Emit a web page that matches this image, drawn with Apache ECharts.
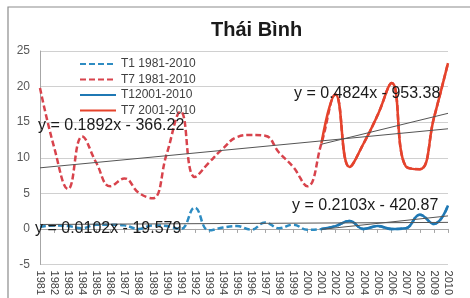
<!DOCTYPE html>
<html>
<head>
<meta charset="utf-8">
<script src="https://cdn.jsdelivr.net/npm/echarts@6/dist/echarts.min.js"></script>
<style>
  html, body { margin: 0; padding: 0; background: #fff; }
  #chart { width: 470px; height: 298px; }
</style>
</head>
<body>
<div id="chart"></div>
<script>
// categories (years)
var years = [];
for (var y = 1981; y <= 2010; y++) years.push(String(y));
var years2 = years.slice(20); // 2001-2010

// T1 (January) 1981-2010, dashed blue
var t1All = [0.3, 0.5, 0.4, 0.1, 0.6, 0.6, 0.5, 0.0, 0.5, 0.4, 0.0, 3.0, -0.2, 0.2, 0.4, -0.1, 0.9, 0.1, 0.6, -0.1,
             0.0, 0.4, 1.1, 0.0, 0.4, 0.0, 0.1, 2.0, 0.7, 3.3];
// T7 (July) 1981-2010, dashed red
var t7All = [19.8, 11.5, 5.6, 13.0, 9.3, 6.0, 7.1, 5.1, 4.3, 10.5, 16.5, 7.3, 9.3, 11.3, 12.9, 13.2, 13.1, 10.7, 8.7, 6.0,
             12.0, 18.9, 8.7, 12.0, 16.0, 20.5, 8.8, 8.4, 15.6, 23.3];
// T1 2001-2010, solid blue
var t1Recent = [0.0, 0.4, 1.1, 0.0, 0.4, 0.0, 0.1, 2.0, 0.7, 3.3];
// T7 2001-2010, solid red
var t7Recent = [12.0, 18.9, 8.7, 12.0, 16.0, 20.5, 8.8, 8.4, 15.6, 23.3];

// trend line equations as printed (slope, intercept, year range)
var trendSlopes = [0.1892, 0.4824, 0.0102, 0.2103];
var trendIntercepts = [-366.22, -953.38, -19.579, -420.87];
var trendFrom = [1981, 2001, 1981, 2001];
var trendTo = [2010, 2010, 2010, 2010];
var trendLabels = ["y = 0.1892x - 366.22", "y = 0.4824x - 953.38", "y = 0.0102x - 19.579", "y = 0.2103x - 420.87"];
var labelPos = [[38, 118], [294, 86], [35, 221], [292, 198]];

var yTicks = [-5, 0, 5, 10, 15, 20, 25];

var chart = echarts.init(document.getElementById("chart"));

function pairs(xs, vs) {
  return xs.map(function (x, i) { return [x, vs[i]]; });
}

var series = [
  {
    name: "T1 1981-2010", type: "line", data: pairs(years, t1All),
    smooth: 0.45, symbol: "none", z: 3,
    lineStyle: { color: "#2e8cc2", width: 2.5, type: [6, 3] },
    itemStyle: { color: "#2e8cc2" }
  },
  {
    name: "T7 1981-2010", type: "line", data: pairs(years, t7All),
    smooth: 0.45, symbol: "none", z: 3,
    lineStyle: { color: "#d8434c", width: 2.5, type: [6, 3] },
    itemStyle: { color: "#d8434c" }
  },
  {
    name: "T12001-2010", type: "line", data: pairs(years2, t1Recent),
    smooth: 0.45, symbol: "none", z: 4,
    lineStyle: { color: "#1f78b4", width: 2.5 },
    itemStyle: { color: "#1f78b4" }
  },
  {
    name: "T7 2001-2010", type: "line", data: pairs(years2, t7Recent),
    smooth: 0.45, symbol: "none", z: 4,
    lineStyle: { color: "#e5432b", width: 2.5 },
    itemStyle: { color: "#e5432b" }
  }
];

trendSlopes.forEach(function (a, i) {
  var b = trendIntercepts[i];
  series.push({
    name: "trend" + i, type: "line", symbol: "none", silent: true, z: 5,
    data: [
      [String(trendFrom[i]), a * trendFrom[i] + b],
      [String(trendTo[i]), a * trendTo[i] + b]
    ],
    lineStyle: { color: "#555", width: 1 }
  });
});

var graphics = [
  {
    type: "rect", shape: { x: 8, y: 7, width: 480, height: 320 }, silent: true,
    style: { fill: null, stroke: "#8c8c8c", lineWidth: 1.2 }
  }
];
trendLabels.forEach(function (t, i) {
  graphics.push({
    type: "text", left: labelPos[i][0], top: labelPos[i][1], z: 100,
    style: { text: t, fill: "#1a1a1a", font: "16px 'Liberation Sans', sans-serif" }
  });
});

chart.setOption({
  animation: false,
  backgroundColor: "#fff",
  title: {
    text: "Thái Bình", left: 206, top: 15,
    textStyle: { fontFamily: "Liberation Sans", fontWeight: "bold", fontSize: 20, color: "#1a1a1a" }
  },
  legend: {
    data: ["T1 1981-2010", "T7 1981-2010", "T12001-2010", "T7 2001-2010"],
    orient: "vertical", left: 74, top: 53,
    itemWidth: 36, itemHeight: 12, itemGap: 3.5, itemTextGap: 3,
    itemStyle: { opacity: 0 },
    textStyle: { fontFamily: "Liberation Sans", fontSize: 12, color: "#404040" }
  },
  grid: { left: 40, right: 22, top: 51, bottom: 21 },
  xAxis: {
    type: "category", data: years, boundaryGap: false,
    axisLine: { lineStyle: { color: "#a6a6a6" } },
    axisTick: { show: true, length: 4, inside: false, lineStyle: { color: "#a6a6a6" } },
    axisLabel: { rotate: -90, margin: 6, interval: 0, fontFamily: "Liberation Sans", fontSize: 11, color: "#404040" },
    splitLine: { show: false }
  },
  yAxis: {
    type: "value", min: yTicks[0], max: yTicks[yTicks.length - 1], interval: 5,
    axisLine: { show: true, lineStyle: { color: "#a6a6a6" } },
    axisTick: { show: false },
    axisLabel: { margin: 10, fontFamily: "Liberation Sans", fontSize: 12, color: "#595959" },
    splitLine: { lineStyle: { color: "#d0d0d0", width: 1 } }
  },
  graphic: graphics,
  series: series
});
</script>
</body>
</html>
